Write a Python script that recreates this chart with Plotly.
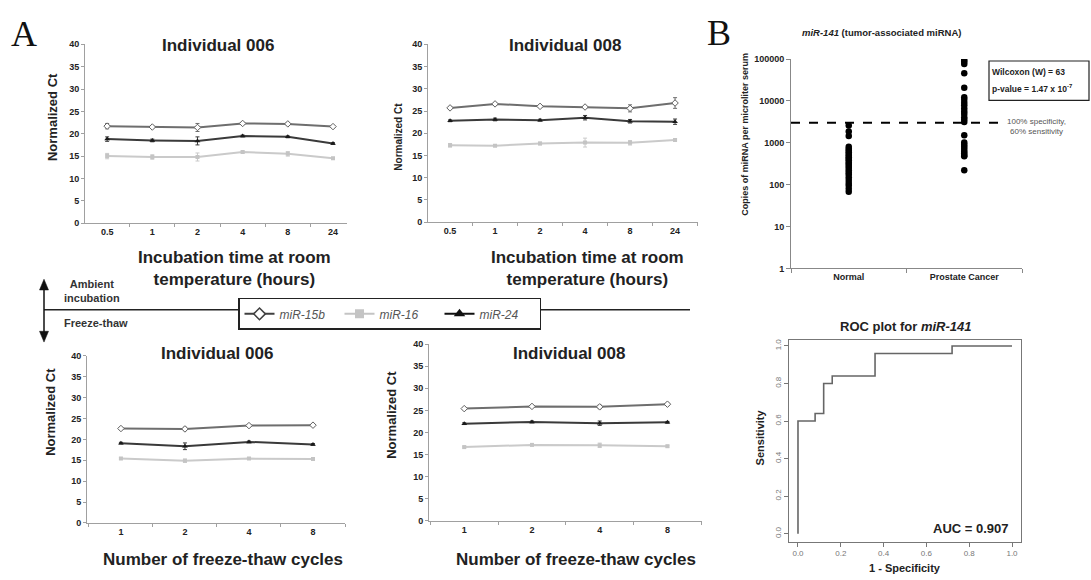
import plotly.graph_objects as go

W, H = 1091, 580
FONT = "Liberation Sans, Arial, sans-serif"

# ---------------- Panel A data ----------------
incub_hours = ["0.5", "1", "2", "4", "8", "24"]
ft_cycles = ["1", "2", "4", "8"]

# Ambient incubation, individual 006
inc006_mir15b = [21.7, 21.5, 21.4, 22.3, 22.2, 21.6]
inc006_mir16 = [15.0, 14.8, 14.8, 15.9, 15.5, 14.5]
inc006_mir24 = [18.8, 18.5, 18.4, 19.5, 19.3, 17.8]
inc006_err15b = [0.6, 0.2, 0.9, 0.2, 0.3, 0.2]
inc006_err16 = [0.6, 0.5, 0.9, 0.2, 0.5, 0.2]
inc006_err24 = [0.5, 0.3, 0.9, 0.2, 0.2, 0.2]

# Ambient incubation, individual 008
inc008_mir15b = [25.7, 26.6, 26.05, 25.9, 25.6, 26.8]
inc008_mir16 = [17.3, 17.2, 17.7, 17.9, 17.85, 18.5]
inc008_mir24 = [22.8, 23.1, 22.95, 23.5, 22.7, 22.6]
inc008_err15b = [0.3, 0.3, 0.2, 0.2, 0.8, 1.2]
inc008_err16 = [0.4, 0.2, 0.3, 1.0, 0.5, 0.2]
inc008_err24 = [0.2, 0.3, 0.2, 0.5, 0.4, 0.6]

# Freeze-thaw, individual 006
ft006_mir15b = [22.6, 22.5, 23.3, 23.4]
ft006_mir16 = [15.45, 14.9, 15.4, 15.3]
ft006_mir24 = [19.1, 18.35, 19.4, 18.8]
ft006_err15b = [0.2, 0.4, 0.2, 0.2]
ft006_err16 = [0.2, 0.4, 0.2, 0.3]
ft006_err24 = [0.2, 0.8, 0.2, 0.2]

# Freeze-thaw, individual 008
ft008_mir15b = [25.4, 25.9, 25.8, 26.4]
ft008_mir16 = [16.7, 17.2, 17.1, 16.9]
ft008_mir24 = [22.0, 22.4, 22.1, 22.3]
ft008_err15b = [0.2, 0.2, 0.4, 0.2]
ft008_err16 = [0.2, 0.2, 0.5, 0.2]
ft008_err24 = [0.2, 0.2, 0.5, 0.2]

series_names = ["miR-15b", "miR-16", "miR-24"]

# ---------------- Panel B data ----------------
groups = ["Normal", "Prostate Cancer"]
normal_copies = [2600, 1870, 1450, 800, 720, 650, 590, 540, 490, 450, 410, 380, 340,
                 310, 280, 250, 220, 195, 175, 150, 130, 110, 95, 80, 68]
cancer_copies = [95000, 86000, 76000, 46000, 20500, 12200, 10600, 9100, 7900,
                 6600, 5600, 4900, 4100, 3600, 3150, 1520, 1010, 900, 800, 710, 620, 560,
                 500, 480, 220]
threshold_copies = 3000
log_ticks = [1, 10, 100, 1000, 10000, 100000]

roc_fpr = [0, 0, 0.08, 0.12, 0.16, 0.36, 0.72, 1.0]
roc_tpr = [0, 0.6, 0.64, 0.8, 0.84, 0.96, 1.0, 1.0]
roc_ticks = [0, 0.2, 0.4, 0.6, 0.8, 1.0]


def PX(x):
    return x / W


def PY(y):
    return 1 - y / H


styles = {
    "miR-15b": dict(line=dict(color="#6e6e6e", width=2),
                    marker=dict(symbol="diamond", size=5, color="white",
                                line=dict(color="#606060", width=1))),
    "miR-16": dict(line=dict(color="#cacaca", width=2),
                   marker=dict(symbol="square", size=4, color="#c4c4c4")),
    "miR-24": dict(line=dict(color="#3a3a3a", width=2),
                   marker=dict(symbol="triangle-up", size=5, color="#1a1a1a")),
}

fig = go.Figure()


def add_panel(ax, cats, vals, errs):
    xa = "x" if ax == 1 else f"x{ax}"
    ya = "y" if ax == 1 else f"y{ax}"
    for name, v, e in zip(series_names, vals, errs):
        st = styles[name]
        fig.add_trace(go.Scatter(
            x=cats, y=v, mode="lines+markers", name=name, showlegend=False,
            line=st["line"], marker=st["marker"],
            error_y=dict(type="data", array=e, thickness=1, width=2,
                         color=st["line"]["color"]),
            xaxis=xa, yaxis=ya, hoverinfo="skip"))


add_panel(1, incub_hours, [inc006_mir15b, inc006_mir16, inc006_mir24],
          [inc006_err15b, inc006_err16, inc006_err24])
add_panel(2, incub_hours, [inc008_mir15b, inc008_mir16, inc008_mir24],
          [inc008_err15b, inc008_err16, inc008_err24])
add_panel(3, ft_cycles, [ft006_mir15b, ft006_mir16, ft006_mir24],
          [ft006_err15b, ft006_err16, ft006_err24])
add_panel(4, ft_cycles, [ft008_mir15b, ft008_mir16, ft008_mir24],
          [ft008_err15b, ft008_err16, ft008_err24])

# legend-only entries with larger symbols
legend_marker = {
    "miR-15b": dict(symbol="diamond", size=9, color="white", line=dict(color="#404040", width=1.5)),
    "miR-16": dict(symbol="square", size=9, color="#c4c4c4"),
    "miR-24": dict(symbol="triangle-up", size=10, color="#111111"),
}
legend_line = {"miR-15b": "#404040", "miR-16": "#c4c4c4", "miR-24": "#111111"}
for name in series_names:
    fig.add_trace(go.Scatter(
        x=[None], y=[None], mode="lines+markers", name=f"<i>{name}</i>",
        line=dict(color=legend_line[name], width=2), marker=legend_marker[name],
        xaxis="x", yaxis="y", showlegend=True))

# Panel B scatter
group_pos = {g: i for i, g in enumerate(groups)}
fig.add_trace(go.Scatter(
    x=[group_pos["Normal"]] * len(normal_copies), y=normal_copies, mode="markers",
    marker=dict(color="black", size=6.5), showlegend=False, xaxis="x5", yaxis="y5"))
fig.add_trace(go.Scatter(
    x=[group_pos["Prostate Cancer"]] * len(cancer_copies), y=cancer_copies, mode="markers",
    marker=dict(color="black", size=6.5), showlegend=False, xaxis="x5", yaxis="y5"))
fig.add_trace(go.Scatter(
    x=[-0.5, 1.33], y=[threshold_copies, threshold_copies], mode="lines",
    line=dict(color="black", width=2, dash="dash"), showlegend=False,
    xaxis="x5", yaxis="y5"))

# ROC
fig.add_trace(go.Scatter(
    x=roc_fpr, y=roc_tpr, mode="lines", line=dict(color="#666666", width=1.6, shape="hv"),
    showlegend=False, xaxis="x6", yaxis="y6"))

tickf = dict(family=FONT, size=9, color="#222", weight="bold")


def cat_x(dom, rng, cats):
    return dict(domain=dom, range=rng, type="category", categoryorder="array",
                categoryarray=cats, showline=True, linecolor="#a0a0a0", linewidth=1,
                ticks="outside", tickson="boundaries", ticklen=3, tickcolor="#a0a0a0",
                showgrid=False, zeroline=False, tickfont=tickf, fixedrange=True)


def ct_y(dom, anchor):
    return dict(domain=dom, range=[0, 40], dtick=5, showline=True, linecolor="#a0a0a0",
                linewidth=1, ticks="outside", ticklen=3, tickcolor="#a0a0a0",
                showgrid=False, zeroline=False, tickfont=tickf, anchor=anchor)


layout = dict(
    width=W, height=H, autosize=False, margin=dict(l=0, r=0, t=0, b=0),
    paper_bgcolor="white", plot_bgcolor="white",
    font=dict(family=FONT, color="#222"),
    xaxis=dict(cat_x([PX(85), PX(347)], [-0.49, 5.31], incub_hours), anchor="y"),
    yaxis=ct_y([PY(222), PY(40)], "x"),
    xaxis2=dict(cat_x([PX(428), PX(698)], [-0.49, 5.51], incub_hours), anchor="y2"),
    yaxis2=ct_y([PY(221), PY(40)], "x2"),
    xaxis3=dict(cat_x([PX(87), PX(345)], [-0.53, 3.5], ft_cycles), anchor="y3"),
    yaxis3=ct_y([PY(527), PY(357)], "x3"),
    xaxis4=dict(cat_x([PX(429), PX(702)], [-0.52, 3.51], ft_cycles), anchor="y4"),
    yaxis4=ct_y([PY(525), PY(345)], "x4"),
    xaxis5=dict(domain=[PX(791), PX(1022)], range=[-0.5, 1.5], anchor="y5",
                tickmode="array", tickvals=[0, 1], ticktext=groups, ticks="",
                minor=dict(tickvals=[-0.5, 0.5, 1.5], ticks="outside", ticklen=4,
                           tickcolor="#888", showgrid=False),
                showline=True, linecolor="#888", showgrid=False, zeroline=False,
                tickfont=tickf),
    yaxis5=dict(domain=[PY(268), PY(55)], type="log", range=[0, 5], anchor="x5",
                tickmode="array", tickvals=log_ticks, ticktext=[str(v) for v in log_ticks],
                ticks="outside", ticklen=4, tickcolor="#888", showline=True,
                linecolor="#888", showgrid=False, zeroline=False, tickfont=tickf),
    xaxis6=dict(domain=[PX(789), PX(1021)], range=[-0.042, 1.042], anchor="y6",
                tickmode="array", tickvals=roc_ticks, tickformat=".1f",
                ticks="outside", ticklen=4, tickcolor="#777", showline=True, mirror=True,
                linecolor="#777", linewidth=1.2, showgrid=False, zeroline=False,
                tickfont=dict(family=FONT, size=8, color="#777")),
    yaxis6=dict(domain=[PY(546), PY(341)], range=[-0.042, 1.031], anchor="x6",
                tickmode="array", tickvals=roc_ticks, tickformat=".1f", tickangle=-90,
                ticks="outside", ticklen=4, tickcolor="#777", showline=True, mirror=True,
                linecolor="#777", linewidth=1.2, showgrid=False, zeroline=False,
                tickfont=dict(family=FONT, size=8, color="#777")),
    legend=dict(orientation="h", x=PX(238), y=PY(298), xanchor="left", yanchor="top",
                bgcolor="white", bordercolor="#222", borderwidth=1.5,
                font=dict(family=FONT, size=12, color="#555"),
                entrywidth=55, entrywidthmode="pixels", itemwidth=30,
                tracegroupgap=0),
)
fig.update_layout(**layout)

ann = []


def txt(x, y, text, size, xanchor="center", yanchor="middle", angle=0, color="#222",
        family=FONT, bold=True):
    ann.append(dict(x=PX(x), y=PY(y), xref="paper", yref="paper", text=text,
                    showarrow=False, xanchor=xanchor, yanchor=yanchor, textangle=angle,
                    font=dict(family=family, size=size, color=color,
                              weight="bold" if bold else "normal")))


# Panel letters
txt(24, 30, "A", 36, family="Liberation Serif, Times New Roman, serif", bold=False, color="#111")
txt(719, 28, "B", 36, family="Liberation Serif, Times New Roman, serif", bold=False, color="#111")

# Panel A titles
txt(218, 41, "Individual 006", 17)
txt(565, 41, "Individual 008", 17)
txt(217, 355, "Individual 006", 17)
txt(569, 355, "Individual 008", 17)
txt(234, 268, "Incubation time at room<br>temperature (hours)", 17)
txt(587, 268, "Incubation time at room<br>temperature (hours)", 17)
txt(223, 564, "Number of freeze-thaw cycles", 17)
txt(576, 564, "Number of freeze-thaw cycles", 17)
txt(52, 114, "Normalized Ct", 13, angle=-90)
txt(399, 134, "Normalized Ct", 10, angle=-90)
txt(51, 414, "Normalized Ct", 13, angle=-90)
txt(392, 417, "Normalized Ct", 13, angle=-90)

# Middle band
txt(62, 291, "Ambient<br>incubation", 11, xanchor="left", color="#333")
txt(62, 324, "Freeze-thaw", 11, xanchor="left", color="#333")

# Panel B top texts
txt(881, 28, "<i>miR-141</i> (tumor-associated miRNA)", 9.5)
txt(745, 131, "Copies of miRNA per microliter serum", 9, angle=-90)
txt(990, 68, "Wilcoxon (W) = 63", 8.5, xanchor="left")
txt(990, 85, "p-value = 1.47 x 10<sup>-7</sup>", 8.5, xanchor="left")
txt(1036, 124, "100% specificity,<br>60% sensitivity", 8, color="#555", bold=False)

# ROC texts
txt(905, 327, "ROC plot for <i>miR-141</i>", 13)
txt(905, 573, "1 - Specificity", 11)
txt(760, 440, "Sensitivity", 11, angle=-90)
txt(1011, 533, "AUC = 0.907", 13, xanchor="right")

fig.update_layout(annotations=ann)


def tri_path(xc, ytip, ybase, half):
    return (f"M {PX(xc)},{PY(ytip)} L {PX(xc - half)},{PY(ybase)} "
            f"L {PX(xc + half)},{PY(ybase)} Z")


fig.update_layout(shapes=[
    dict(type="line", xref="paper", yref="paper", x0=PX(44), x1=PX(690),
         y0=PY(310), y1=PY(310), line=dict(color="#222", width=1.5), layer="below"),
    dict(type="line", xref="paper", yref="paper", x0=PX(44), x1=PX(44),
         y0=PY(286), y1=PY(336), line=dict(color="#111", width=1.5)),
    dict(type="path", xref="paper", yref="paper", path=tri_path(44, 279, 290, 4.5),
         fillcolor="#111", line=dict(color="#111", width=0.5)),
    dict(type="path", xref="paper", yref="paper", path=tri_path(44, 343, 332, 4.5),
         fillcolor="#111", line=dict(color="#111", width=0.5)),
    dict(type="rect", xref="paper", yref="paper", x0=PX(989), x1=PX(1089),
         y0=PY(97), y1=PY(57), line=dict(color="#222", width=1.2)),
])

fig.write_html("out.html", config={"displayModeBar": False},
               post_script="document.body.style.margin='0px';document.body.style.overflow='hidden';")
